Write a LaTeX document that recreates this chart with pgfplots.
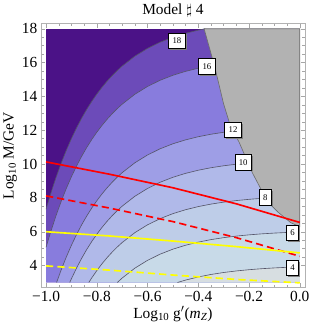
\documentclass[border=0pt]{standalone}
\usepackage{fontspec}
\setmainfont{Liberation Serif}
\usepackage{pgfplots}
\pgfplotsset{compat=1.18}
\usetikzlibrary{shadows}
\definecolor{c1}{RGB}{75,18,135}
\definecolor{c2}{RGB}{108,75,185}
\definecolor{c3}{RGB}{136,124,221}
\definecolor{c4}{RGB}{158,158,230}
\definecolor{c5}{RGB}{176,185,233}
\definecolor{c6}{RGB}{190,205,232}
\definecolor{c7}{RGB}{200,218,232}
\definecolor{c8}{RGB}{215,222,225}
\definecolor{gry}{RGB}{178,178,178}
\definecolor{cl}{RGB}{85,85,105}
\definecolor{yel}{RGB}{255,255,0}
\tikzset{lab/.style={draw=black, fill=white, line width=0.7bp, inner sep=0pt, minimum height=15bp, minimum width=16bp,
  font=\fontsize{8.5}{8.5}\selectfont, drop shadow={shadow xshift=1.3bp, shadow yshift=-1.3bp, fill=gray, opacity=1}}}
\begin{document}
\begin{tikzpicture}
\begin{axis}[
 width=256bp, height=256bp, scale only axis,
 xmin=-1.02, xmax=0.02, ymin=2.7, ymax=18.3,
 axis on top,
 xtick={-1,-0.8,-0.6,-0.4,-0.2,0},
 xticklabels={−1.0,−0.8,−0.6,−0.4,−0.2,0.0},
 ytick={4,6,8,10,12,14,16,18},
 minor x tick num=3, minor y tick num=3,
 tick align=inside,
 major tick length=4bp, minor tick length=2.5bp,
 axis line style={draw=gray!60},
 every tick/.style={gray!70},
 ticklabel style={font=\fontsize{15}{15}\selectfont, black},
 /pgf/number format/assume math mode=true,
 title={Model $\sharp$ 4},
 title style={font=\fontsize{15}{15}\selectfont, yshift=-3bp},
 xlabel={Log\textsubscript{10} g$'$(\textit{m}\textsubscript{\textit{Z}})},
 ylabel={Log\textsubscript{10} M/GeV},
 label style={font=\fontsize{15}{15}\selectfont},
 xlabel style={yshift=2bp},
 ylabel style={yshift=-2bp},
]
% background (>18)
\addplot[fill=c1, draw=none] coordinates {(-1,3) (0,3) (0,18) (-1,18)} -- cycle;
% 16-18
\addplot[fill=c2, draw=none] coordinates {(-1,7.33) (-0.98,8.324) (-0.96,9.231) (-0.94,10.058) (-0.92,10.813) (-0.90,11.5) (-0.88,12.128) (-0.86,12.7) (-0.84,13.222) (-0.82,13.698) (-0.80,14.131) (-0.78,14.527) (-0.76,14.888) (-0.74,15.217) (-0.72,15.518) (-0.70,15.792) (-0.65,16.376) (-0.60,16.839) (-0.55,17.207) (-0.50,17.5) (-0.45,17.732) (-0.40,17.917) (-0.373,18.0) (0,18) (0,3) (-1,3)} -- cycle;
% 12-16
\addplot[fill=c3, draw=none] coordinates {(-1,5.08) (-0.98,6.074) (-0.96,6.981) (-0.94,7.808) (-0.92,8.563) (-0.90,9.25) (-0.88,9.878) (-0.86,10.45) (-0.84,10.972) (-0.82,11.448) (-0.80,11.881) (-0.78,12.277) (-0.76,12.638) (-0.74,12.967) (-0.72,13.268) (-0.70,13.542) (-0.65,14.126) (-0.60,14.589) (-0.55,14.957) (-0.50,15.25) (-0.45,15.482) (-0.40,15.667) (-0.35,15.814) (-0.30,15.93) (-0.25,16.023) (-0.20,16.096) (-0.15,16.155) (-0.10,16.201) (-0.05,16.238) (0,16.267) (0,3) (-1,3)} -- cycle;
% 10-12
\addplot[fill=c4, draw=none] coordinates {(-0.9584,3.0) (-0.94,3.758) (-0.92,4.513) (-0.90,5.2) (-0.88,5.828) (-0.86,6.4) (-0.84,6.922) (-0.82,7.398) (-0.80,7.831) (-0.78,8.227) (-0.76,8.588) (-0.74,8.917) (-0.72,9.218) (-0.70,9.492) (-0.65,10.076) (-0.60,10.539) (-0.55,10.907) (-0.50,11.2) (-0.45,11.432) (-0.40,11.617) (-0.35,11.764) (-0.30,11.88) (-0.25,11.973) (-0.20,12.046) (-0.15,12.105) (-0.10,12.151) (-0.05,12.188) (0,12.217) (0,3)} -- cycle;
% 8-10
\addplot[fill=c5, draw=none] coordinates {(-0.9066,3.0) (-0.90,3.22) (-0.88,3.848) (-0.86,4.42) (-0.84,4.942) (-0.82,5.418) (-0.80,5.851) (-0.78,6.247) (-0.76,6.608) (-0.74,6.937) (-0.72,7.238) (-0.70,7.512) (-0.65,8.096) (-0.60,8.559) (-0.55,8.927) (-0.50,9.22) (-0.45,9.452) (-0.40,9.637) (-0.35,9.784) (-0.30,9.90) (-0.25,9.993) (-0.20,10.066) (-0.15,10.125) (-0.10,10.171) (-0.05,10.208) (0,10.237) (0,3)} -- cycle;
% 6-8
\addplot[fill=c6, draw=none] coordinates {(-0.8315,3.0) (-0.82,3.268) (-0.80,3.701) (-0.78,4.097) (-0.76,4.458) (-0.74,4.787) (-0.72,5.088) (-0.70,5.362) (-0.65,5.946) (-0.60,6.409) (-0.55,6.777) (-0.50,7.07) (-0.45,7.302) (-0.40,7.487) (-0.35,7.634) (-0.30,7.75) (-0.25,7.843) (-0.20,7.916) (-0.15,7.975) (-0.10,8.021) (-0.05,8.058) (0,8.087) (0,3)} -- cycle;
% 4-6
\addplot[fill=c7, draw=none] coordinates {(-0.719,3.0) (-0.70,3.262) (-0.65,3.846) (-0.60,4.309) (-0.55,4.677) (-0.50,4.97) (-0.45,5.202) (-0.40,5.387) (-0.35,5.534) (-0.30,5.65) (-0.25,5.743) (-0.20,5.816) (-0.15,5.875) (-0.10,5.921) (-0.05,5.958) (0,5.987) (0,3)} -- cycle;
% <4
\addplot[fill=c8, draw=none] coordinates {(-0.482,3.0) (-0.45,3.142) (-0.40,3.327) (-0.35,3.474) (-0.30,3.59) (-0.25,3.683) (-0.20,3.756) (-0.15,3.815) (-0.10,3.861) (-0.05,3.898) (0,3.927) (0,3)} -- cycle;
% contour lines
\addplot[cl, line width=0.6bp] coordinates {(-1,7.33) (-0.98,8.324) (-0.96,9.231) (-0.94,10.058) (-0.92,10.813) (-0.90,11.5) (-0.88,12.128) (-0.86,12.7) (-0.84,13.222) (-0.82,13.698) (-0.80,14.131) (-0.78,14.527) (-0.76,14.888) (-0.74,15.217) (-0.72,15.518) (-0.70,15.792) (-0.65,16.376) (-0.60,16.839) (-0.55,17.207) (-0.50,17.5) (-0.45,17.732) (-0.40,17.917) (-0.373,18.0)};
\addplot[cl, line width=0.6bp] coordinates {(-1,5.08) (-0.98,6.074) (-0.96,6.981) (-0.94,7.808) (-0.92,8.563) (-0.90,9.25) (-0.88,9.878) (-0.86,10.45) (-0.84,10.972) (-0.82,11.448) (-0.80,11.881) (-0.78,12.277) (-0.76,12.638) (-0.74,12.967) (-0.72,13.268) (-0.70,13.542) (-0.65,14.126) (-0.60,14.589) (-0.55,14.957) (-0.50,15.25) (-0.45,15.482) (-0.40,15.667) (-0.35,15.814) (-0.30,15.93)};
\addplot[cl, line width=0.6bp] coordinates {(-0.9584,3.0) (-0.94,3.758) (-0.92,4.513) (-0.90,5.2) (-0.88,5.828) (-0.86,6.4) (-0.84,6.922) (-0.82,7.398) (-0.80,7.831) (-0.78,8.227) (-0.76,8.588) (-0.74,8.917) (-0.72,9.218) (-0.70,9.492) (-0.65,10.076) (-0.60,10.539) (-0.55,10.907) (-0.50,11.2) (-0.45,11.432) (-0.40,11.617) (-0.35,11.764) (-0.30,11.88) (-0.25,11.973)};
\addplot[cl, line width=0.6bp] coordinates {(-0.9066,3.0) (-0.90,3.22) (-0.88,3.848) (-0.86,4.42) (-0.84,4.942) (-0.82,5.418) (-0.80,5.851) (-0.78,6.247) (-0.76,6.608) (-0.74,6.937) (-0.72,7.238) (-0.70,7.512) (-0.65,8.096) (-0.60,8.559) (-0.55,8.927) (-0.50,9.22) (-0.45,9.452) (-0.40,9.637) (-0.35,9.784) (-0.30,9.90) (-0.25,9.993) (-0.20,10.066)};
\addplot[cl, line width=0.6bp] coordinates {(-0.8315,3.0) (-0.82,3.268) (-0.80,3.701) (-0.78,4.097) (-0.76,4.458) (-0.74,4.787) (-0.72,5.088) (-0.70,5.362) (-0.65,5.946) (-0.60,6.409) (-0.55,6.777) (-0.50,7.07) (-0.45,7.302) (-0.40,7.487) (-0.35,7.634) (-0.30,7.75) (-0.25,7.843) (-0.20,7.916) (-0.15,7.975) (-0.10,8.021)};
\addplot[cl, line width=0.6bp] coordinates {(-0.719,3.0) (-0.70,3.262) (-0.65,3.846) (-0.60,4.309) (-0.55,4.677) (-0.50,4.97) (-0.45,5.202) (-0.40,5.387) (-0.35,5.534) (-0.30,5.65) (-0.25,5.743) (-0.20,5.816) (-0.15,5.875) (-0.10,5.921) (-0.05,5.958) (0,5.987)};
\addplot[cl, line width=0.6bp] coordinates {(-0.482,3.0) (-0.45,3.142) (-0.40,3.327) (-0.35,3.474) (-0.30,3.59) (-0.25,3.683) (-0.20,3.756) (-0.15,3.815) (-0.10,3.861) (-0.05,3.898) (0,3.927)};
% excluded region
\addplot[fill=gry, draw=gray!85!black, line width=0.6bp] coordinates {(-0.377,18.0) (-0.336,15.8) (-0.300,13.55) (-0.275,12.33) (-0.239,11.29) (-0.186,9.46) (-0.154,8.55) (-0.126,7.76) (-0.085,7.15) (-0.036,6.54) (0,6.3) (0,18)} -- cycle;
% red and yellow lines
\addplot[red, line width=1.6bp] coordinates {(-1,10.13) (-0.75,9.4) (-0.5,8.6) (-0.25,7.65) (0,6.55)};
\addplot[red, line width=1.6bp, dash pattern=on 7bp off 4bp] coordinates {(-1,8.12) (-0.75,7.4) (-0.5,6.6) (-0.25,5.65) (0,4.55)};
\addplot[yel, line width=1.6bp] coordinates {(-1,6.0) (-0.75,5.75) (-0.5,5.45) (-0.25,5.12) (0,4.75)};
\addplot[yel, line width=1.6bp, dash pattern=on 7bp off 4bp] coordinates {(-1,3.98) (-0.75,3.73) (-0.5,3.44) (-0.25,3.18) (0,2.98)};
% contour labels
\node[lab] at (axis cs:-0.484,17.3) {18};
\node[lab] at (axis cs:-0.366,15.77) {16};
\node[lab] at (axis cs:-0.263,12.02) {12};
\node[lab] at (axis cs:-0.223,10.10) {10};
\node[lab, minimum width=12bp] at (axis cs:-0.136,8.03) {8};
\node[lab, minimum width=12bp] at (axis cs:-0.028,5.93) {6};
\node[lab, minimum width=12bp] at (axis cs:-0.028,3.85) {4};
\end{axis}
\end{tikzpicture}
\end{document}
